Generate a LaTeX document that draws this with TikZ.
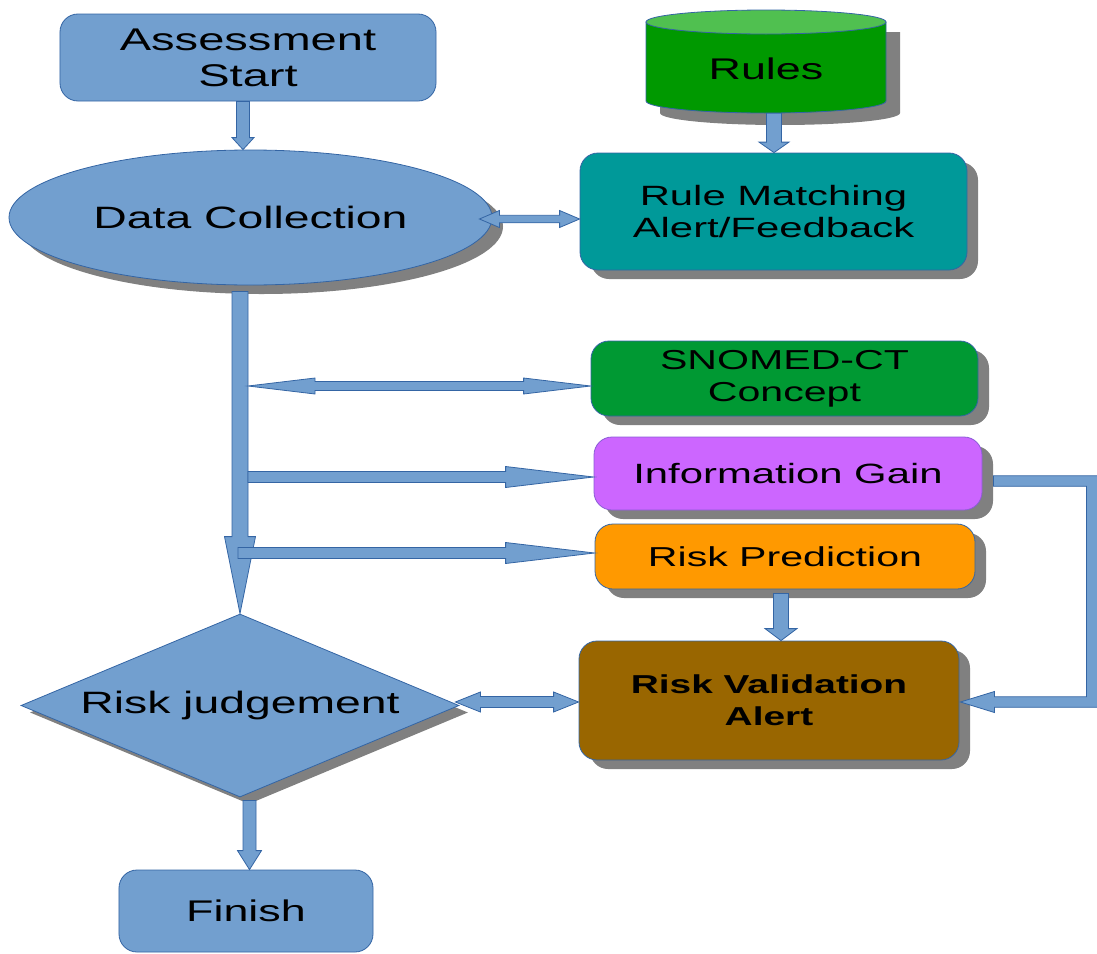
\documentclass[tikz,border=0pt]{standalone}
\usepackage{fontspec}
\setmainfont{Liberation Sans}[FakeStretch=1.5]
\usetikzlibrary{shapes.geometric,shadows,calc}

\definecolor{boxblue}{HTML}{729FCF}
\definecolor{edgeblue}{HTML}{3465A4}
\definecolor{rulesbody}{HTML}{009900}
\definecolor{rulestop}{HTML}{50C050}
\definecolor{matchteal}{HTML}{009999}
\definecolor{snomedgreen}{HTML}{009933}
\definecolor{gainviolet}{HTML}{CC66FF}
\definecolor{gainedge}{HTML}{8A5CD6}
\definecolor{predorange}{HTML}{FF9900}
\definecolor{validbrown}{HTML}{996600}

\tikzset{
  shade/.style={drop shadow={shadow xshift=11bp,shadow yshift=-9bp,opacity=1,fill=gray}},
  diashade/.style={drop shadow={shadow xshift=9bp,shadow yshift=-7bp,opacity=1,fill=gray}},
  card/.style={rectangle,rounded corners=18bp,draw=edgeblue,line width=0.8bp,
               align=center,inner sep=0pt,text=black},
  blockarrow/.style={fill=boxblue,draw=edgeblue,line width=0.8bp,line join=miter},
}

% block arrow pointing down: start point, tip target, half shaft, half head, head length
\newcommand\blkdown[5]{%
  \draw[blockarrow] let \p1=(#1), \p2=(#2) in
    (\x1-#3bp,\y1) -- (\x1-#3bp,\y2+#5bp) -- (\x1-#4bp,\y2+#5bp) -- (\x1,\y2)
    -- (\x1+#4bp,\y2+#5bp) -- (\x1+#3bp,\y2+#5bp) -- (\x1+#3bp,\y1) -- cycle;}
% block arrow pointing right
\newcommand\blkright[5]{%
  \draw[blockarrow] let \p1=(#1), \p2=(#2) in
    (\x1,\y1+#3bp) -- (\x2-#5bp,\y1+#3bp) -- (\x2-#5bp,\y1+#4bp) -- (\x2,\y1)
    -- (\x2-#5bp,\y1-#4bp) -- (\x2-#5bp,\y1-#3bp) -- (\x1,\y1-#3bp) -- cycle;}
% double-headed horizontal block arrow
\newcommand\blkboth[5]{%
  \draw[blockarrow] let \p1=(#1), \p2=(#2) in
    (\x1,\y1) -- (\x1+#5bp,\y1+#4bp) -- (\x1+#5bp,\y1+#3bp)
    -- (\x2-#5bp,\y1+#3bp) -- (\x2-#5bp,\y1+#4bp) -- (\x2,\y1)
    -- (\x2-#5bp,\y1-#4bp) -- (\x2-#5bp,\y1-#3bp)
    -- (\x1+#5bp,\y1-#3bp) -- (\x1+#5bp,\y1-#4bp) -- cycle;}

\begin{document}
\begin{tikzpicture}[x=1bp,y=-1bp]
\useasboundingbox (0,0) rectangle (1097,954);

% ---- nodes ----
\node[card,fill=boxblue,minimum width=376bp,minimum height=87bp,
      font=\fontsize{31.5}{36}\selectfont] (start) at (248,57.5) {Assessment\\Start};

\node[ellipse,shade,fill=boxblue,draw=edgeblue,line width=0.8bp,inner sep=0pt,
      minimum width=483bp,minimum height=135bp,
      font=\fontsize{31}{36}\selectfont] (dc) at (250.5,217.5) {Data Collection};

% rules store drawn as a cylinder
\fill[gray] (660,32) -- (660,113) arc[start angle=180,end angle=360,x radius=120bp,y radius=12bp]
            -- (900,32) -- cycle;
\draw[fill=rulesbody,draw=edgeblue,line width=0.8bp]
  (646,22) -- (646,101) arc[start angle=180,end angle=360,x radius=120bp,y radius=12bp]
  -- (886,22) -- cycle;
\draw[fill=rulestop,draw=edgeblue,line width=0.8bp]
  (766,22) ellipse[x radius=120bp,y radius=12bp];
\node[minimum width=240bp,minimum height=103bp,inner sep=0pt] (rules) at (766,61.5) {};
\node[font=\fontsize{30}{34}\selectfont,inner sep=0pt] (rulestext) at ($(rules.center)+(0,7.5)$) {Rules};

\node[card,shade,fill=matchteal,minimum width=387bp,minimum height=117bp,
      font=\fontsize{28}{32}\selectfont] (rm) at (773.5,211.5) {Rule Matching\\Alert/Feedback};

\node[card,shade,fill=snomedgreen,minimum width=387bp,minimum height=75bp,
      font=\fontsize{27.5}{32}\selectfont] (snomed) at (784.5,378.5) {SNOMED-CT\\Concept};

\node[card,shade,fill=gainviolet,draw=gainedge,minimum width=388bp,minimum height=73bp,
      font=\fontsize{28}{32}\selectfont] (ig) at (788,473.5) {Information Gain};

\node[card,shade,fill=predorange,minimum width=380bp,minimum height=65bp,
      font=\fontsize{27.5}{32}\selectfont] (rp) at (785,556.5) {Risk Prediction};

\node[card,shade,fill=validbrown,minimum width=380bp,minimum height=119bp,
      font=\fontsize{26}{32}\selectfont\bfseries] (rv) at (769,700.5) {Risk Validation\\Alert};

\node[diamond,diashade,fill=boxblue,draw=edgeblue,line width=0.8bp,inner sep=0pt,
      aspect=2.4,minimum width=438bp,minimum height=183bp,
      font=\fontsize{31}{36}\selectfont] (rj) at (240,705.5) {Risk judgement};

\node[card,fill=boxblue,minimum width=254bp,minimum height=82bp,
      font=\fontsize{30}{34}\selectfont] (finish) at (246,911) {Finish};

% ---- connectors ----
\blkdown{$(start.south)+(-5,0)$}{dc.north}{6.5}{11}{12}
\blkdown{$(rules.south)+(8,0)$}{rm.north}{7.5}{15}{10.5}
\blkboth{$(dc.east)+(-13,1.5)$}{rm.west}{3.75}{8.5}{20}

% main trunk down to the judgement
\blkdown{$(dc.south -| rj.north)+(0,6)$}{rj.north}{8}{15.5}{77}

\blkboth{$(rj.north |- snomed.west)+(8,7.5)$}{snomed.west}{4.5}{8}{67}
\blkright{$(rj.north |- ig.west)+(8,3.5)$}{ig.west}{5.5}{10.5}{88}
\blkright{$(rj.north |- rp.west)+(-2,-3.5)$}{rp.west}{5.5}{10.5}{89}

\blkdown{$(rp.south)+(-4,4)$}{rv.north}{7.5}{16}{12}

% feedback loop from information gain to validation
\coordinate (loopstart) at ($(ig.east)+(11,7.5)$);
\coordinate (looptip) at ($(rv.east)+(1,1.5)$);
\draw[blockarrow] let \p1=(loopstart), \p2=(looptip) in
  (\x1,\y1+5.25bp) -- (\x1+104bp,\y1+5.25bp) -- (\x1+104bp,\y2-5.25bp)
  -- (\x2+34bp,\y2-5.25bp) -- (\x2+34bp,\y2-10.5bp) -- (\x2,\y2)
  -- (\x2+34bp,\y2+10.5bp) -- (\x2+34bp,\y2+5.25bp) -- (\x1+93bp,\y2+5.25bp)
  -- (\x1+93bp,\y1-5.25bp) -- (\x1,\y1-5.25bp) -- cycle;

\blkboth{$(rj.east)+(-4,-3.5)$}{rv.west}{5.5}{10}{25}
\blkdown{$(rj.south)+(9.5,3)$}{finish.north}{6.5}{12}{19}
\end{tikzpicture}
\end{document}
